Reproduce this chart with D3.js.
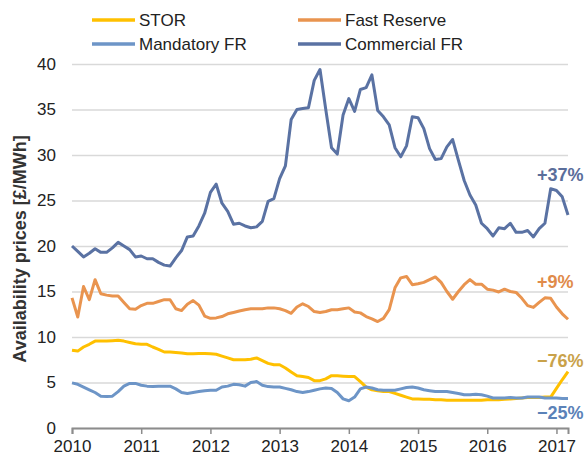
<!DOCTYPE html>
<html>
<head>
<meta charset="utf-8">
<script src="https://cdn.jsdelivr.net/npm/d3@7"></script>
<style>
  body { margin: 0; background: #fff; }
  svg { font-family: "Liberation Sans", Arial, sans-serif; }
</style>
</head>
<body>
<svg id="chart" width="587" height="463"></svg>
<script>
// monthly values, Jan 2010 .. Mar 2017
const start_year = 2010;
const years = [2010, 2011, 2012, 2013, 2014, 2015, 2016, 2017];
const y_ticks = [0, 5, 10, 15, 20, 25, 30, 35, 40];

const stor = [
  8.55, 8.45, 8.9, 9.2, 9.55, 9.55, 9.55, 9.6, 9.65, 9.55,
  9.4, 9.25, 9.2, 9.2, 8.9, 8.65, 8.35, 8.35, 8.3, 8.25,
  8.15, 8.15, 8.2, 8.2, 8.15, 8.1, 7.9, 7.7, 7.5, 7.5,
  7.5, 7.55, 7.7, 7.4, 7.1, 6.95, 6.95, 6.6, 6.15, 5.75,
  5.65, 5.55, 5.2, 5.2, 5.4, 5.75, 5.75, 5.7, 5.65, 5.65,
  5.1, 4.5, 4.2, 4.1, 4.0, 4.0, 3.8, 3.6, 3.4, 3.2,
  3.2, 3.15, 3.15, 3.1, 3.1, 3.05, 3.05, 3.05, 3.05, 3.05,
  3.05, 3.05, 3.1, 3.1, 3.1, 3.15, 3.2, 3.25, 3.3, 3.35,
  3.35, 3.35, 3.4, 3.4, 4.35, 5.3, 6.2
];
const fast_reserve = [
  14.3, 12.2, 15.55, 14.1, 16.3, 14.75, 14.6, 14.5, 14.5, 13.8,
  13.1, 13.05, 13.45, 13.7, 13.7, 13.9, 14.1, 14.1, 13.1, 12.9,
  13.6, 14.0, 13.5, 12.3, 12.05, 12.1, 12.25, 12.55, 12.7, 12.85,
  13.0, 13.1, 13.1, 13.1, 13.2, 13.2, 13.1, 12.9, 12.6, 13.3,
  13.65, 13.35, 12.8, 12.7, 12.8, 13.0, 13.0, 13.1, 13.2, 12.75,
  12.65, 12.25, 12.0, 11.7, 12.05, 13.0, 15.4, 16.5, 16.65, 15.75,
  15.85, 16.0, 16.3, 16.6, 16.0, 15.0, 14.15, 15.0, 15.75, 16.3,
  15.8, 15.8, 15.25, 15.15, 14.95, 15.25, 15.0, 14.9, 14.25, 13.45,
  13.25, 13.8, 14.3, 14.25, 13.3, 12.55, 11.95
];
const mandatory_fr = [
  4.96, 4.8, 4.5, 4.2, 3.9, 3.5, 3.45, 3.5, 4.0, 4.6,
  4.9, 4.9, 4.7, 4.6, 4.55, 4.6, 4.6, 4.6, 4.3, 3.9,
  3.8, 3.9, 4.0, 4.1, 4.15, 4.15, 4.5, 4.6, 4.8, 4.75,
  4.6, 5.0, 5.1, 4.7, 4.55, 4.5, 4.5, 4.35, 4.2, 4.0,
  3.9, 4.0, 4.15, 4.3, 4.4, 4.35, 3.9, 3.2, 3.0, 3.4,
  4.3, 4.5, 4.4, 4.2, 4.15, 4.15, 4.15, 4.3, 4.45, 4.5,
  4.4, 4.2, 4.1, 4.0, 4.0, 4.0, 3.9, 3.8, 3.65, 3.65,
  3.7, 3.65, 3.5, 3.3, 3.3, 3.3, 3.35, 3.3, 3.3, 3.4,
  3.4, 3.4, 3.3, 3.3, 3.3, 3.25, 3.25
];
const commercial_fr = [
  20.0, 19.4, 18.8, 19.2, 19.7, 19.3, 19.3, 19.8, 20.4, 20.0,
  19.6, 18.8, 18.9, 18.6, 18.6, 18.2, 17.9, 17.8, 18.7, 19.5,
  21.0, 21.1, 22.2, 23.6, 25.9, 26.8, 24.7, 23.8, 22.4, 22.5,
  22.2, 22.0, 22.1, 22.7, 24.9, 25.2, 27.4, 28.8, 33.9, 35.0,
  35.1, 35.2, 38.2, 39.4, 35.0, 30.8, 30.1, 34.4, 36.2, 34.8,
  37.2, 37.4, 38.8, 34.9, 34.2, 33.3, 30.8, 29.8, 31.0, 34.2,
  34.1, 32.9, 30.7, 29.5, 29.6, 30.9, 31.7, 29.4, 27.2, 25.6,
  24.5, 22.5, 21.9, 21.1, 22.0, 21.9, 22.5, 21.5, 21.5, 21.7,
  21.0, 21.9, 22.5, 26.3, 26.1, 25.4, 23.4
];

const series_names = ['STOR', 'Fast Reserve', 'Mandatory FR', 'Commercial FR'];
const series_values = [stor, fast_reserve, mandatory_fr, commercial_fr];
const series_colors = ['#ffc000', '#e9944f', '#6d95c7', '#5a72a3'];

// change labels at the right end, drawn in series order
const change_labels = ['\u221276%', '+9%', '\u221225%', '+37%'];
const change_colors = ['#c9a24a', '#e08b4a', '#5b82b8', '#5a6e9b'];
const change_dy = [-5, -31, 21, -34];

const svg = d3.select('#chart');
const n = stor.length;
const t_end = start_year + (n - 1) / 12;

const x = d3.scaleLinear().domain([start_year, t_end]).range([72, 568]);
const y = d3.scaleLinear().domain([0, 40]).range([428, 64]);

// gridlines
svg.append('g')
  .attr('transform', `translate(${x(start_year)},0)`)
  .call(d3.axisLeft(y).tickValues(y_ticks).tickSize(-(x(t_end) - x(start_year))).tickFormat(''))
  .call(g => g.select('.domain').remove())
  .call(g => g.selectAll('line').attr('stroke', '#d9d9d9').attr('stroke-width', 1.5))
  ;

// y labels
svg.append('g')
  .attr('transform', `translate(${x(start_year)},0)`)
  .call(d3.axisLeft(y).tickValues(y_ticks).tickSize(0).tickPadding(16))
  .call(g => g.select('.domain').remove())
  .call(g => g.selectAll('text')
    .attr('font-size', 17)
    .attr('font-family', '"Liberation Sans", Arial, sans-serif')
    .attr('fill', '#222'))
  ;

// x axis
svg.append('g')
  .attr('transform', `translate(0,${y(0)})`)
  .call(d3.axisBottom(x).tickValues(years).tickFormat(d3.format('d')).tickSizeOuter(0).tickSize(6).tickPadding(6))
  .call(g => g.select('.domain').attr('stroke', '#8c8c8c').attr('stroke-width', 2))
  .call(g => g.selectAll('line').attr('stroke', '#8c8c8c').attr('stroke-width', 1.5))
  .call(g => g.selectAll('text')
    .attr('font-size', 17)
    .attr('font-family', '"Liberation Sans", Arial, sans-serif')
    .attr('fill', '#222'))
  ;

// y title
svg.append('text')
  .attr('transform', `translate(26,${(y(0) + y(40)) / 2 + 3}) rotate(-90)`)
  .attr('text-anchor', 'middle')
  .attr('font-size', 18)
  .attr('font-weight', 'bold')
  .attr('fill', '#333')
  .text('Availability prices [£/MWh]')
  ;

// lines
const line = d3.line()
  .x((d, i) => x(start_year + i / 12))
  .y(d => y(d))
  ;

svg.append('g')
  .selectAll('path')
  .data(series_values)
  .enter()
  .append('path')
  .attr('d', d => line(d))
  .attr('fill', 'none')
  .attr('stroke', (d, i) => series_colors[i])
  .attr('stroke-width', 3)
  .attr('stroke-linejoin', 'round')
  ;

// change labels
svg.append('g')
  .selectAll('text')
  .data(series_values)
  .enter()
  .append('text')
  .attr('x', 537)
  .attr('y', (d, i) => y(d[n - 1]) + change_dy[i])
  .attr('font-size', 18)
  .attr('font-weight', 'bold')
  .attr('fill', (d, i) => change_colors[i])
  .text((d, i) => change_labels[i])
  ;

// legend
const legend = svg.append('g')
  .selectAll('g')
  .data(series_names)
  .enter()
  .append('g')
  .attr('transform', (d, i) => `translate(${92 + (i % 2) * 206},${20 + Math.floor(i / 2) * 24})`)
  ;

legend.append('line')
  .attr('x1', 0)
  .attr('x2', 43)
  .attr('stroke', (d, i) => series_colors[i])
  .attr('stroke-width', 3.5)
  ;

legend.append('text')
  .attr('x', 47)
  .attr('y', 6)
  .attr('font-size', 17)
  .attr('fill', '#222')
  .text(d => d)
  ;
</script>
</body>
</html>
